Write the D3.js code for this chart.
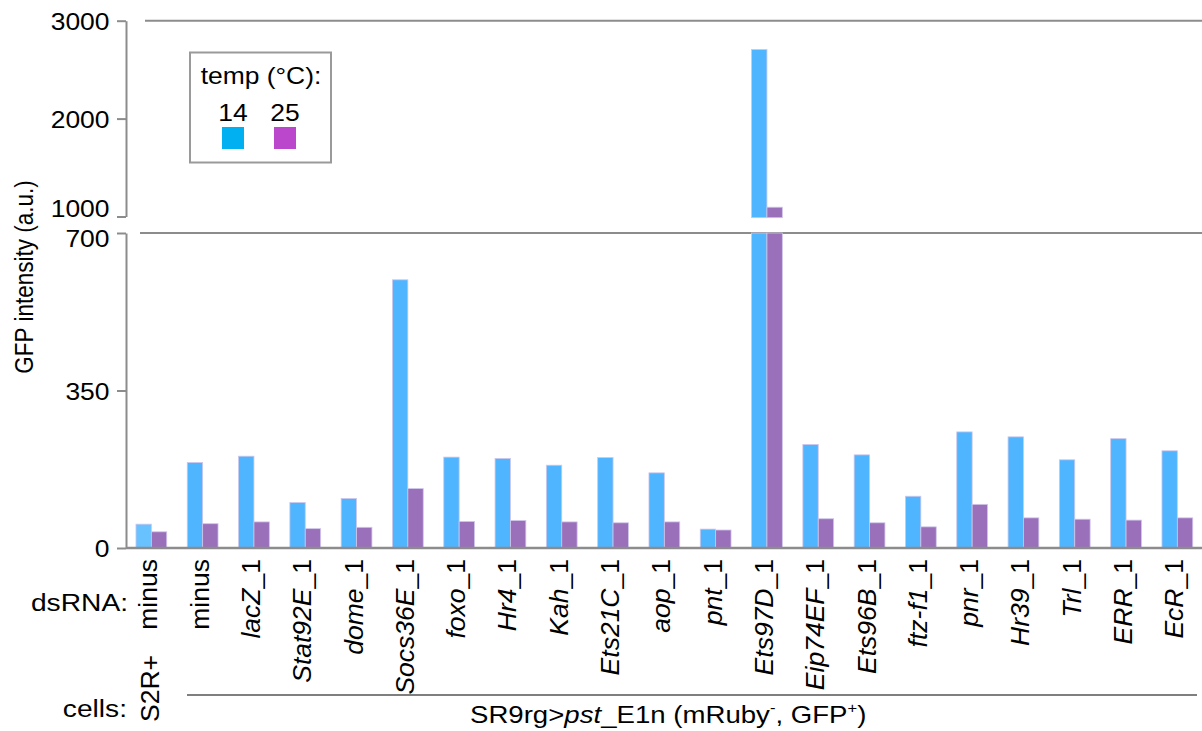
<!DOCTYPE html>
<html>
<head>
<meta charset="utf-8">
<script src="https://cdn.jsdelivr.net/npm/d3@7"></script>
<style>
  html, body { margin: 0; padding: 0; background: #fff; }
  svg { display: block; font-family: "Liberation Sans", Arial, sans-serif; }
</style>
</head>
<body>
<svg id="chart" width="1202" height="731"></svg>
<script>
// ---------- data ----------
const genes = ["minus", "minus", "lacZ", "Stat92E", "dome", "Socs36E", "foxo", "Hr4", "Kah", "Ets21C", "aop", "pnt", "Ets97D", "Eip74EF", "Ets96B", "ftz-f1", "pnr", "Hr39", "Trl", "ERR", "EcR"];
const suffixes = ["", "", "_1", "_1", "_1", "_1", "_1", "_1", "_1", "_1", "_1", "_1", "_1", "_1", "_1", "_1", "_1", "_1", "_1", "_1", "_1"];
const temps = ["14", "25"];
const values14 = [53, 190, 204, 101, 110, 596, 202, 199, 184, 201, 167, 42, 2706, 230, 207, 115, 258, 247, 196, 243, 216];
const values25 = [36, 54, 58, 43, 46, 132, 59, 61, 58, 56, 58, 40, 1095, 65, 56, 47, 97, 67, 64, 62, 67];
const lowTicks = [0, 350, 700];
const highTicks = [1000, 2000, 3000];

// ---------- setup ----------
const svg = d3.select("#chart");
const SX = 1.15;            // horizontal stretch of the original figure's text
const FS = 22.5;
const FR = 26.5;            // rotated category labels
const gray = "#8c8c8c";
const blue = "#50b5ff", blueFirst = "#68c2ff", purple = "#9a70bb";
const legendBlue = "#00b0f0", legendPurple = "#bb48cc";

const x0 = d3.scaleBand().domain(d3.range(genes.length)).range([125.7, 1203]).paddingInner(0.4).paddingOuter(0.2);
const x1 = d3.scaleBand().domain(temps).range([0, x0.bandwidth()]);
const yLow = d3.scaleLinear().domain([0, 700]).range([548, 233]);
const yHigh = d3.scaleLinear().domain([1000, 3000]).range([216.5, 20.7]);

function txt(parent, x, y, rot, anchor, size, sx) {
  const s = sx === undefined ? SX : sx;
  const g = parent.append("g").attr("transform", `translate(${x},${y}) scale(${s},1) rotate(${rot})`);
  return g.append("text").attr("text-anchor", anchor).attr("font-size", size || FS).attr("fill", "#000");
}

// ---------- horizontal reference lines ----------
svg.append("line").attr("x1", 145).attr("x2", 1202).attr("y1", yHigh(3000)).attr("y2", yHigh(3000)).attr("stroke", gray).attr("stroke-width", 2);
svg.append("line").attr("x1", 140).attr("x2", 1202).attr("y1", yLow(700)).attr("y2", yLow(700)).attr("stroke", gray).attr("stroke-width", 2);

// ---------- bars ----------
genes.forEach((gname, i) => {
  const vals = [values14[i], values25[i]];
  vals.forEach((v, k) => {
    const t = temps[k];
    const fill = k === 0 ? (i === 0 ? blueFirst : blue) : purple;
    const bx = x0(i) + x1(t);
    const bw = x1.bandwidth();
    const lowTop = yLow(Math.min(v, 700));
    svg.append("rect").attr("x", bx).attr("y", lowTop).attr("width", bw).attr("height", yLow(0) - lowTop)
      .attr("fill", fill).attr("stroke", "#cfc6ea").attr("stroke-width", 0.8);
    if (v > 1000) {
      const top = yHigh(v);
      const bottom = yHigh(1000) + 1.2;
      svg.append("rect").attr("x", bx).attr("y", top).attr("width", bw).attr("height", bottom - top)
        .attr("fill", fill).attr("stroke", "#cfc6ea").attr("stroke-width", 0.8);
    }
  });
});

// baseline
svg.append("line").attr("x1", 126).attr("x2", 1202).attr("y1", yLow(0)).attr("y2", yLow(0)).attr("stroke", gray).attr("stroke-width", 2.5);

// ---------- axes ----------
function labelShift(t) {
  if (t === 1000) return 0.5;   // pushed up, away from the break
  if (t === 700) return 13.5;   // pushed down, away from the break
  return 9;
}
function drawAxis(scale, ticks) {
  const g = svg.append("g").attr("transform", "translate(126,0)")
    .call(d3.axisLeft(scale).tickValues(ticks).tickSizeInner(9).tickSizeOuter(0).tickFormat(""));
  g.select(".domain").attr("stroke", gray).attr("stroke-width", 2);
  g.selectAll(".tick line").attr("stroke", gray).attr("stroke-width", 2);
  ticks.forEach(t => {
    txt(svg, 109.5, scale(t) + labelShift(t), 0, "end", 23).text(d3.format("d")(t));
  });
}
drawAxis(yLow, lowTicks);
drawAxis(yHigh, highTicks);

// y axis title
txt(svg, 33, 277, -90, "middle").text("GFP intensity (a.u.)");

// ---------- legend ----------
svg.append("rect").attr("x", 190).attr("y", 52.5).attr("width", 141).attr("height", 110)
  .attr("fill", "#fff").attr("stroke", "#9a9a9a").attr("stroke-width", 2);
txt(svg, 261, 83.5, 0, "middle", 23).text("temp (°C):");
const legendCols = [legendBlue, legendPurple];
const legendX = [233, 285];
temps.forEach((t, k) => {
  txt(svg, legendX[k], 120.5, 0, "middle", 24.5, 1.08).text(t);
  svg.append("rect").attr("x", legendX[k] - 11).attr("y", 127).attr("width", 22).attr("height", 22).attr("fill", legendCols[k]);
});

// ---------- category labels ----------
txt(svg, 128, 611, 0, "end", 24.5).text("dsRNA:");
genes.forEach((gname, i) => {
  const cx = x0(i) + x0.bandwidth() / 2 + 6;
  const t = txt(svg, cx, 559, -90, "end", FR, 1);
  if (gname === "minus") {
    t.text(gname);
  } else {
    t.append("tspan").attr("font-style", "italic").text(gname);
    t.append("tspan").text(suffixes[i]);
  }
});

// cells row
txt(svg, 127, 717, 0, "end", 24.5).text("cells:");
txt(svg, 159, 722, -90, "start", FR, 1).text("S2R+");
svg.append("line").attr("x1", 187).attr("x2", 1197).attr("y1", 695).attr("y2", 695).attr("stroke", "#000").attr("stroke-width", 1.2);
const cellT = txt(svg, 470, 723, 0, "start", 24);
cellT.append("tspan").text("SR9rg>");
cellT.append("tspan").attr("font-style", "italic").text("pst");
cellT.append("tspan").text("_E1n (mRuby");
cellT.append("tspan").attr("font-size", 24 * 0.6).attr("dy", -10).text("-");
cellT.append("tspan").attr("dy", 10).text(", GFP");
cellT.append("tspan").attr("font-size", 24 * 0.6).attr("dy", -10).text("+");
cellT.append("tspan").attr("dy", 10).text(")");
</script>
</body>
</html>
